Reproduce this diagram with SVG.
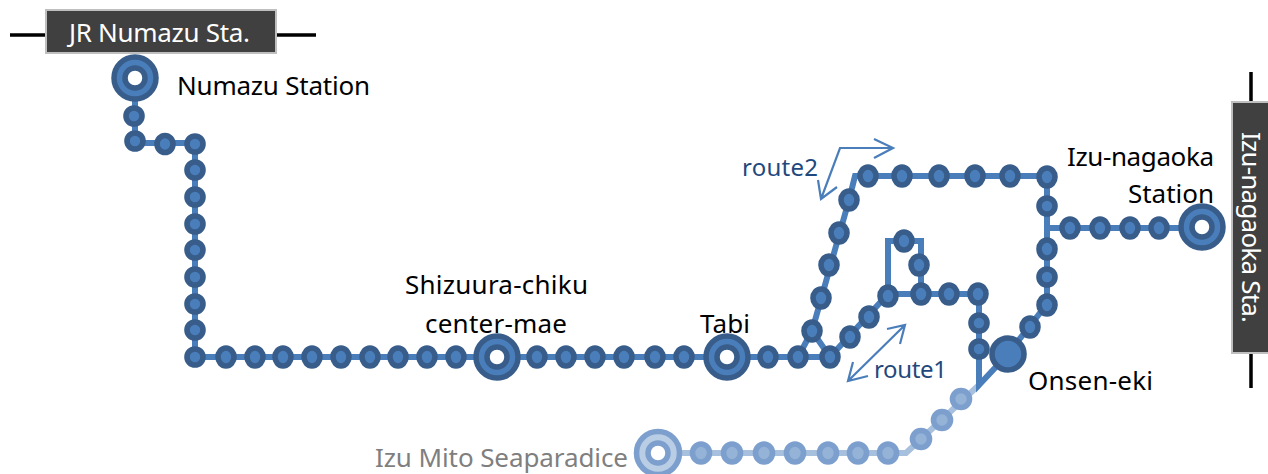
<svg xmlns="http://www.w3.org/2000/svg" width="1268" height="474" viewBox="0 0 1268 474">
<style>
text{font-family:"Noto Sans","Liberation Sans",sans-serif;font-size:26px;fill:#000}
.wt{fill:#fff;font-size:26px}
.rt{fill:#1F497D;font-size:24px}
.gy{fill:#7F7F7F}
.box{fill:#404040;stroke:#BFBFBF;stroke-width:2}
.bar{fill:none;stroke:#000;stroke-width:3.5}
.ln{fill:none;stroke:#4A7EBB;stroke-width:6}
.lt{fill:none;stroke:#A7C0DE;stroke-width:6}
.ar{fill:none;stroke:#4A7EBB;stroke-width:2.2}
.s ellipse{fill:#4A7EBB;stroke:#385D8A;stroke-width:5.6}
.l ellipse{fill:#95B3D7;stroke:#7C9FCE;stroke-width:5.6}
.b .o{fill:#4A7EBB;stroke:#385D8A;stroke-width:5.5}
.b .i{fill:#fff;stroke:#385D8A;stroke-width:5.5}
.c .o{fill:#B9CDE5;stroke:#7C9FCE;stroke-width:5.5}
.c .i{fill:#fff;stroke:#7C9FCE;stroke-width:5.5}
</style>
<g id="connectors">
<path class="bar" d="M10 35H45M277 35H316M1251 72V101M1251 354V388"/>
<path class="lt" d="M979 385L921 439L906 453H657"/>
<path class="ln" d="M135 78V143H195V357H830"/>
<path class="ln" d="M798 357L812 331L849 200L855 176H1047V229M1047 229V304L1008 354L979 385V294H888L830 357L812 331"/>
<path class="ln" d="M888 296V241H921V294M1047 228H1202"/>
<path class="ar" d="M893 148H840L821 199M874 139L893 148L874 158M818 180L821 199L837 187"/>
<path class="ar" d="M905 325L848 381M887 329L905 325L900 344M853 362L848 381L868 376"/>
</g>
<g id="jr-numazu"><rect class="box" x="46" y="10" width="230" height="43"/><text class="wt" x="69" y="42" textLength="181">JR Numazu Sta.</text></g>
<g id="izu-nagaoka-sta"><rect class="box" x="1232" y="102" width="40" height="251"/><text class="wt" transform="translate(1242 132) rotate(90)" textLength="191">Izu-nagaoka Sta.</text></g>
<g id="numazu-station" class="b"><circle class="o" cx="135" cy="78" r="21"/><circle class="i" cx="135" cy="78" r="10"/><text x="177" y="95" textLength="193">Numazu Station</text></g>
<g id="shizuura" class="b"><circle class="o" cx="497" cy="357" r="21"/><circle class="i" cx="497" cy="357" r="10"/><text x="405" y="294" textLength="183">Shizuura-chiku</text><text x="425" y="333" textLength="142">center-mae</text></g>
<g id="tabi" class="b"><circle class="o" cx="727" cy="357" r="21"/><circle class="i" cx="727" cy="357" r="10"/><text x="700" y="333" textLength="50">Tabi</text></g>
<g id="izu-nagaoka-station" class="b"><circle class="o" cx="1202" cy="227" r="21"/><circle class="i" cx="1202" cy="227" r="10"/><text x="1067" y="166" textLength="147">Izu-nagaoka</text><text x="1128" y="203" textLength="86">Station</text></g>
<g id="izu-mito" class="c"><circle class="o" cx="658" cy="453" r="21.5"/><circle class="i" cx="658" cy="453" r="10"/><text class="gy" x="375" y="467" textLength="253">Izu Mito Seaparadice</text></g>
<g id="onsen-eki" class="s"><ellipse cx="1008" cy="354" rx="16" ry="16"/><text x="1028" y="390" textLength="125">Onsen-eki</text></g>
<g id="route1-label"><text class="rt" x="874" y="378" textLength="73">route1</text></g>
<g id="route2-label"><text class="rt" x="742" y="176" textLength="76">route2</text></g>
<g class="s">
<g id="n1"><ellipse cx="134" cy="116" rx="8" ry="8"/></g>
<g id="n2"><ellipse cx="135" cy="141" rx="8" ry="8"/></g>
<g id="n3"><ellipse cx="165" cy="144" rx="8" ry="8.5"/></g>
<g id="n4"><ellipse cx="195" cy="144" rx="8" ry="8"/></g>
<g id="n5"><ellipse cx="195" cy="170" rx="8" ry="8"/></g>
<g id="n6"><ellipse cx="195" cy="197" rx="8" ry="8"/></g>
<g id="n7"><ellipse cx="195" cy="224" rx="8" ry="8"/></g>
<g id="n8"><ellipse cx="195" cy="250" rx="8" ry="8"/></g>
<g id="n9"><ellipse cx="195" cy="277" rx="8" ry="8"/></g>
<g id="n10"><ellipse cx="195" cy="304" rx="8" ry="8"/></g>
<g id="n11"><ellipse cx="195" cy="330" rx="8" ry="8"/></g>
<g id="n12"><ellipse cx="195" cy="357" rx="8" ry="8"/></g>
<g id="n13"><ellipse cx="226" cy="357" rx="8" ry="9"/></g>
<g id="n14"><ellipse cx="255" cy="357" rx="8" ry="9"/></g>
<g id="n15"><ellipse cx="283" cy="357" rx="8" ry="9"/></g>
<g id="n16"><ellipse cx="312" cy="357" rx="8" ry="9"/></g>
<g id="n17"><ellipse cx="341" cy="357" rx="8" ry="9"/></g>
<g id="n18"><ellipse cx="370" cy="357" rx="8" ry="9"/></g>
<g id="n19"><ellipse cx="398" cy="357" rx="8" ry="9"/></g>
<g id="n20"><ellipse cx="427" cy="357" rx="8" ry="9"/></g>
<g id="n21"><ellipse cx="456" cy="357" rx="8" ry="9"/></g>
<g id="n22"><ellipse cx="537" cy="357" rx="8" ry="9"/></g>
<g id="n23"><ellipse cx="566" cy="357" rx="8" ry="9"/></g>
<g id="n24"><ellipse cx="595" cy="357" rx="8" ry="9"/></g>
<g id="n25"><ellipse cx="624" cy="357" rx="8" ry="9"/></g>
<g id="n26"><ellipse cx="655" cy="357" rx="8" ry="9"/></g>
<g id="n27"><ellipse cx="684" cy="357" rx="8" ry="9"/></g>
<g id="n28"><ellipse cx="768" cy="357" rx="8" ry="9"/></g>
<g id="n29"><ellipse cx="798" cy="357" rx="8" ry="9"/></g>
<g id="n30"><ellipse cx="830" cy="357" rx="8" ry="9"/></g>
<g id="n31"><ellipse cx="812" cy="331" rx="8" ry="9"/></g>
<g id="n32"><ellipse cx="821" cy="298" rx="8" ry="9"/></g>
<g id="n33"><ellipse cx="829" cy="265" rx="8" ry="9"/></g>
<g id="n34"><ellipse cx="839" cy="233" rx="8" ry="9"/></g>
<g id="n35"><ellipse cx="849" cy="200" rx="8" ry="9"/></g>
<g id="n36"><ellipse cx="868" cy="176" rx="8" ry="9"/></g>
<g id="n37"><ellipse cx="902" cy="176" rx="8" ry="9"/></g>
<g id="n38"><ellipse cx="939" cy="176" rx="8" ry="9"/></g>
<g id="n39"><ellipse cx="975" cy="176" rx="8" ry="9"/></g>
<g id="n40"><ellipse cx="1010" cy="176" rx="8" ry="9"/></g>
<g id="n41"><ellipse cx="1047" cy="177" rx="8" ry="9"/></g>
<g id="n42"><ellipse cx="1047" cy="206" rx="8" ry="8"/></g>
<g id="n43"><ellipse cx="1047" cy="249" rx="8" ry="9"/></g>
<g id="n44"><ellipse cx="1047" cy="277" rx="8" ry="8"/></g>
<g id="n45"><ellipse cx="1047" cy="305" rx="8" ry="9"/></g>
<g id="n46"><ellipse cx="1030" cy="327" rx="8" ry="9"/></g>
<g id="n47"><ellipse cx="1070" cy="228" rx="8" ry="9"/></g>
<g id="n48"><ellipse cx="1100" cy="228" rx="8" ry="9"/></g>
<g id="n49"><ellipse cx="1130" cy="228" rx="8" ry="9"/></g>
<g id="n50"><ellipse cx="1159" cy="228" rx="8" ry="9"/></g>
<g id="n51"><ellipse cx="850" cy="337" rx="8" ry="9"/></g>
<g id="n52"><ellipse cx="869" cy="317" rx="8" ry="9"/></g>
<g id="n53"><ellipse cx="888" cy="296" rx="8" ry="9"/></g>
<g id="n54"><ellipse cx="921" cy="294" rx="8" ry="9"/></g>
<g id="n55"><ellipse cx="949" cy="294" rx="8" ry="9"/></g>
<g id="n56"><ellipse cx="978" cy="294" rx="8" ry="9"/></g>
<g id="n57"><ellipse cx="979" cy="323" rx="8" ry="8"/></g>
<g id="n58"><ellipse cx="979" cy="349" rx="8" ry="8"/></g>
<g id="n59"><ellipse cx="904" cy="241" rx="8" ry="9"/></g>
<g id="n60"><ellipse cx="919" cy="265" rx="8" ry="9"/></g>
</g>
<g class="l">
<g id="m1"><ellipse cx="961" cy="399" rx="8.5" ry="8.5"/></g>
<g id="m2"><ellipse cx="942" cy="420" rx="8.5" ry="8.5"/></g>
<g id="m3"><ellipse cx="921" cy="439" rx="8.5" ry="8.5"/></g>
<g id="m4"><ellipse cx="888" cy="453" rx="8.5" ry="9"/></g>
<g id="m5"><ellipse cx="858" cy="453" rx="8.5" ry="9"/></g>
<g id="m6"><ellipse cx="828" cy="453" rx="8.5" ry="9"/></g>
<g id="m7"><ellipse cx="795" cy="453" rx="8.5" ry="9"/></g>
<g id="m8"><ellipse cx="764" cy="453" rx="8.5" ry="9"/></g>
<g id="m9"><ellipse cx="732" cy="453" rx="8.5" ry="9"/></g>
<g id="m10"><ellipse cx="701" cy="453" rx="8.5" ry="9"/></g>
</g>
</svg>
